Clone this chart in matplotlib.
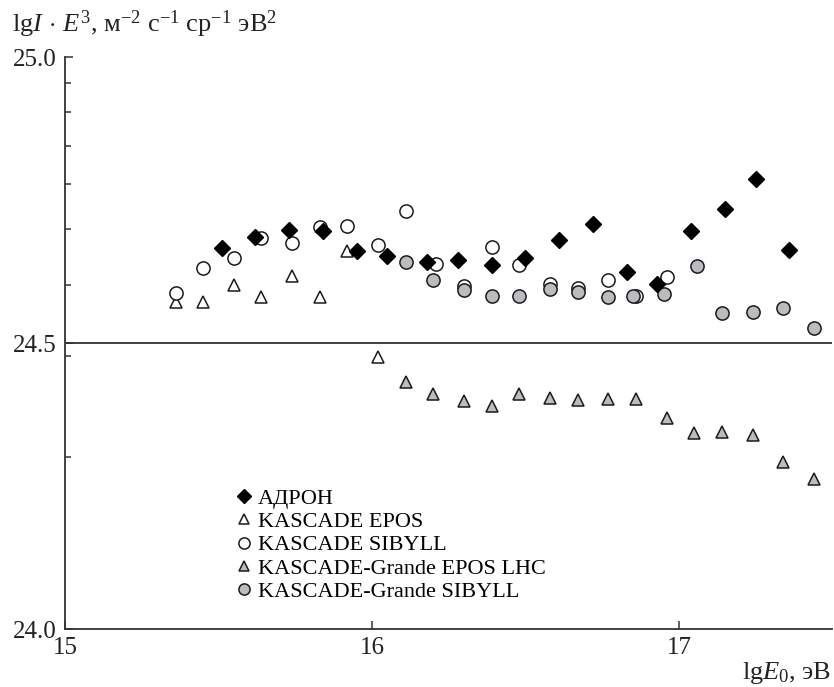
import numpy as np
import matplotlib
matplotlib.use('Agg')
import matplotlib.pyplot as plt

plt.rcParams['font.family'] = ['Liberation Serif', 'DejaVu Serif']
plt.rcParams['mathtext.fontset'] = 'custom'
plt.rcParams['mathtext.rm'] = 'Liberation Serif'
plt.rcParams['mathtext.it'] = 'Liberation Serif:italic'

# lg E0 and lg(I*E^3)
adron_x = [15.51, 15.62, 15.73, 15.84, 15.95, 16.05, 16.18, 16.28, 16.39,
           16.50, 16.61, 16.72, 16.83, 16.93, 17.04, 17.15, 17.25, 17.36]
adron_y = [24.666, 24.686, 24.698, 24.696, 24.661, 24.652, 24.641, 24.645, 24.636,
           24.648, 24.680, 24.708, 24.625, 24.604, 24.696, 24.735, 24.787, 24.662]

k_epos_x = [15.36, 15.45, 15.55, 15.64, 15.74, 15.83, 15.92, 16.02]
k_epos_y = [24.572, 24.571, 24.601, 24.581, 24.617, 24.581, 24.660, 24.475]

k_sib_x = [15.36, 15.45, 15.55, 15.64, 15.74, 15.83, 15.92, 16.02, 16.11,
           16.21, 16.30, 16.39, 16.48, 16.58, 16.67, 16.77, 16.86, 16.96]
k_sib_y = [24.587, 24.632, 24.648, 24.683, 24.675, 24.702, 24.705, 24.671, 24.730,
           24.639, 24.600, 24.668, 24.636, 24.603, 24.596, 24.611, 24.582, 24.615]

kg_epos_x = [16.11, 16.20, 16.30, 16.39, 16.48, 16.58, 16.67, 16.77,
             16.86, 16.96, 17.05, 17.14, 17.24, 17.34, 17.44]
kg_epos_y = [24.432, 24.410, 24.399, 24.390, 24.410, 24.404, 24.400, 24.402,
             24.402, 24.369, 24.343, 24.345, 24.339, 24.292, 24.262]

kg_sib_x = [16.11, 16.20, 16.30, 16.39, 16.48, 16.58, 16.67, 16.77,
            16.85, 16.95, 17.06, 17.14, 17.24, 17.34, 17.44]
kg_sib_y = [24.641, 24.610, 24.593, 24.582, 24.582, 24.594, 24.589, 24.581,
            24.582, 24.586, 24.635, 24.552, 24.554, 24.562, 24.527]

labels = ['АДРОН', 'KASCADE EPOS', 'KASCADE SIBYLL',
          'KASCADE-Grande EPOS LHC', 'KASCADE-Grande SIBYLL']

grey = '#bcbcc0'
edge = '#1a1a1a'

fig = plt.figure(figsize=(8.34, 6.87), dpi=100)
ax = fig.add_axes([0.078, 0.0844, 0.92, 0.8326])

h2, = ax.plot(k_epos_x, k_epos_y, '^', ms=9, mfc='white', mec=edge, mew=1.1, ls='none', zorder=3)
h3, = ax.plot(k_sib_x, k_sib_y, 'o', ms=9.5, mfc='white', mec=edge, mew=1.1, ls='none', zorder=3)
h4, = ax.plot(kg_epos_x, kg_epos_y, '^', ms=9, mfc=grey, mec=edge, mew=1.1, ls='none', zorder=4)
h5, = ax.plot(kg_sib_x, kg_sib_y, 'o', ms=9.5, mfc=grey, mec=edge, mew=1.1, ls='none', zorder=4)
h1, = ax.plot(adron_x, adron_y, 'D', ms=8, mfc='black', mec='black', ls='none', zorder=5)

# horizontal reference line at 24.5
ax.axhline(24.5, color='#333333', lw=1.3, zorder=2)

ax.set_xlim(15, 17.5)
ax.set_ylim(24.0, 25.0)

ax.spines['top'].set_visible(False)
ax.spines['right'].set_visible(False)
for s in ['left', 'bottom']:
    ax.spines[s].set_linewidth(1.3)
    ax.spines[s].set_color('#333333')

ax.set_xticks([15, 16, 17])
ax.set_xticklabels(['15', '16', '17'])
ax.set_yticks([24.0, 24.5, 25.0])
ax.set_yticklabels(['24.0', '24.5', '25.0'])
ax.set_yticks([24 + np.log10(k) for k in range(2, 10)], minor=True)
ax.tick_params(axis='both', which='major', direction='in', length=5.5, width=1.1,
               color='#333333', labelsize=18, labelcolor='#222222')
ax.tick_params(axis='x', pad=6)
ax.tick_params(axis='y', pad=6)
ax.tick_params(axis='y', which='minor', direction='in', length=4.5, width=1.1, color='#333333')

fig.text(0.014, 0.953, r'$\mathrm{lg}I\,\cdot\,E^3$, м$^{-2}$ с$^{-1}$ ср$^{-1}$ эВ$^2$',
         fontsize=19, color='#222222', va='baseline', ha='left')
fig.text(0.997, 0.012, r'$\mathrm{lg}E_0$, эВ', fontsize=19, color='#222222',
         va='baseline', ha='right')

ax.legend([h1, h2, h3, h4, h5], labels, loc='upper left', frameon=False,
          bbox_to_anchor=(0.268, 0.302), bbox_transform=fig.transFigure,
          fontsize=16, handletextpad=0.15, labelspacing=0.12, handlelength=1.0,
          borderaxespad=0, markerscale=0.85)

fig.savefig('out.png', dpi=100)
